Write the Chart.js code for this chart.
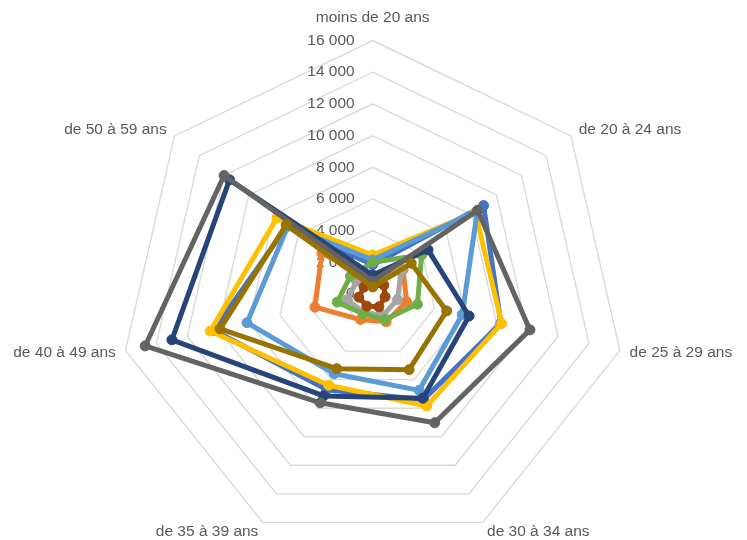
<!DOCTYPE html>
<html lang="fr">
<head>
  <meta charset="UTF-8" />
  <title>Radar par tranche d'âge</title>
  <script src="https://cdn.jsdelivr.net/npm/chart.js"></script>
  <style>
    html, body { margin: 0; padding: 0; background: #ffffff; }
    #chart-container { width: 747px; height: 540px; }
  </style>
</head>
<body>
  <div id="chart-container">
    <canvas id="radarChart"></canvas>
  </div>

  <script>
    // catégories (axes du radar)
    const categories = ['moins de 20 ans', 'de 20 à 24 ans', 'de 25 à 29 ans', 'de 30 à 34 ans',
                        'de 35 à 39 ans', 'de 40 à 49 ans', 'de 50 à 59 ans'];

    // graduations
    const tickValues = [0, 2000, 4000, 6000, 8000, 10000, 12000, 14000, 16000];

    // séries
    const serie1  = [1850, 8950, 8300, 7400, 6700, 10300, 6900];
    const serie2  = [1000, 2450, 2200, 1950, 1790, 3740, 4100];
    const serie3  = [700, 2300, 1600, 1500, 1300, 1650, 1300];
    const serie4  = [2460, 8280, 8350, 7850, 6390, 10510, 7720];
    const serie5  = [2150, 8450, 5800, 6750, 5590, 8140, 6850];
    const serie6  = [2000, 3950, 2900, 1790, 1380, 2300, 1800];
    const serie7  = [1200, 4470, 6240, 7300, 7140, 13000, 11560];
    const serie8  = [500, 900, 800, 900, 850, 900, 700];
    const serie9  = [800, 8470, 10180, 9020, 7620, 14730, 12000];
    const serie10 = [440, 3110, 4790, 5300, 5230, 9880, 6990];

    const seriesNames  = ['Série 1', 'Série 2', 'Série 3', 'Série 4', 'Série 5',
                          'Série 6', 'Série 7', 'Série 8', 'Série 9', 'Série 10'];
    const seriesValues = [serie1, serie2, serie3, serie4, serie5, serie6, serie7, serie8, serie9, serie10];
    const seriesColors = ['#4472C4', '#ED7D31', '#A5A5A5', '#FFC000', '#5B9BD5',
                          '#70AD47', '#264478', '#9E480E', '#636363', '#997300'];

    const FONT = '"Liberation Sans", Arial, sans-serif';
    const TEXT_COLOR = '#595959';

    // format "16 000"
    const fmt = v => String(v).replace(/\B(?=(\d{3})+(?!\d))/g, ' ');

    // étiquettes des graduations à gauche de l'axe vertical, comme Excel
    const tickLabelPlugin = {
      id: 'tickLabels',
      beforeDatasetsDraw(chart) {
        const scale = chart.scales.r;
        const ctx = chart.ctx;
        ctx.save();
        ctx.font = '15.5px ' + FONT;
        ctx.fillStyle = TEXT_COLOR;
        ctx.textAlign = 'right';
        ctx.textBaseline = 'middle';
        tickValues.forEach(v => {
          const y = scale.yCenter - scale.getDistanceFromCenterForValue(v);
          ctx.fillText(fmt(v), scale.xCenter - 18, y);
        });
        ctx.restore();
      }
    };

    // étiquettes des catégories
    const pointLabelPlugin = {
      id: 'catLabels',
      afterDraw(chart) {
        const scale = chart.scales.r;
        const ctx = chart.ctx;
        const n = categories.length;
        ctx.save();
        ctx.font = '15.5px ' + FONT;
        ctx.fillStyle = TEXT_COLOR;
        ctx.textBaseline = 'middle';
        categories.forEach((label, i) => {
          const pad = i === 0 ? 23 : 10;
          const p = scale.getPointPosition(i, scale.drawingArea + pad);
          if (i === 0) ctx.textAlign = 'center';
          else if (i <= Math.floor(n / 2)) ctx.textAlign = 'left';
          else ctx.textAlign = 'right';
          ctx.fillText(label, p.x, p.y);
        });
        ctx.restore();
      }
    };

    const datasets = seriesValues.map((vals, i) => ({
      label: seriesNames[i],
      data: vals,
      borderColor: seriesColors[i],
      backgroundColor: seriesColors[i],
      pointBackgroundColor: seriesColors[i],
      pointBorderColor: seriesColors[i],
      borderWidth: 5,
      pointRadius: 5,
      pointBorderWidth: 1,
      borderJoinStyle: 'round',
      fill: false,
      order: seriesValues.length - i   // dernière série au premier plan
    }));

    const ctx = document.getElementById('radarChart').getContext('2d');
    new Chart(ctx, {
      type: 'radar',
      data: { labels: categories, datasets: datasets },
      plugins: [tickLabelPlugin, pointLabelPlugin],
      options: {
        responsive: true,
        maintainAspectRatio: false,
        animation: false,
        plugins: {
          legend: { display: false },
          tooltip: { enabled: false }
        },
        elements: { line: { tension: 0 } },
        scales: {
          r: {
            min: 0,
            max: 16000,
            ticks: { display: false, stepSize: 2000 },
            pointLabels: { display: false },
            angleLines: { display: false },
            grid: { color: '#D9D9D9', lineWidth: 1.4 },
            afterFit(scale) {
              scale.xCenter = 372.7;
              scale.yCenter = 294;
              scale.drawingArea = 253.5;
            }
          }
        }
      }
    });
  </script>
</body>
</html>
